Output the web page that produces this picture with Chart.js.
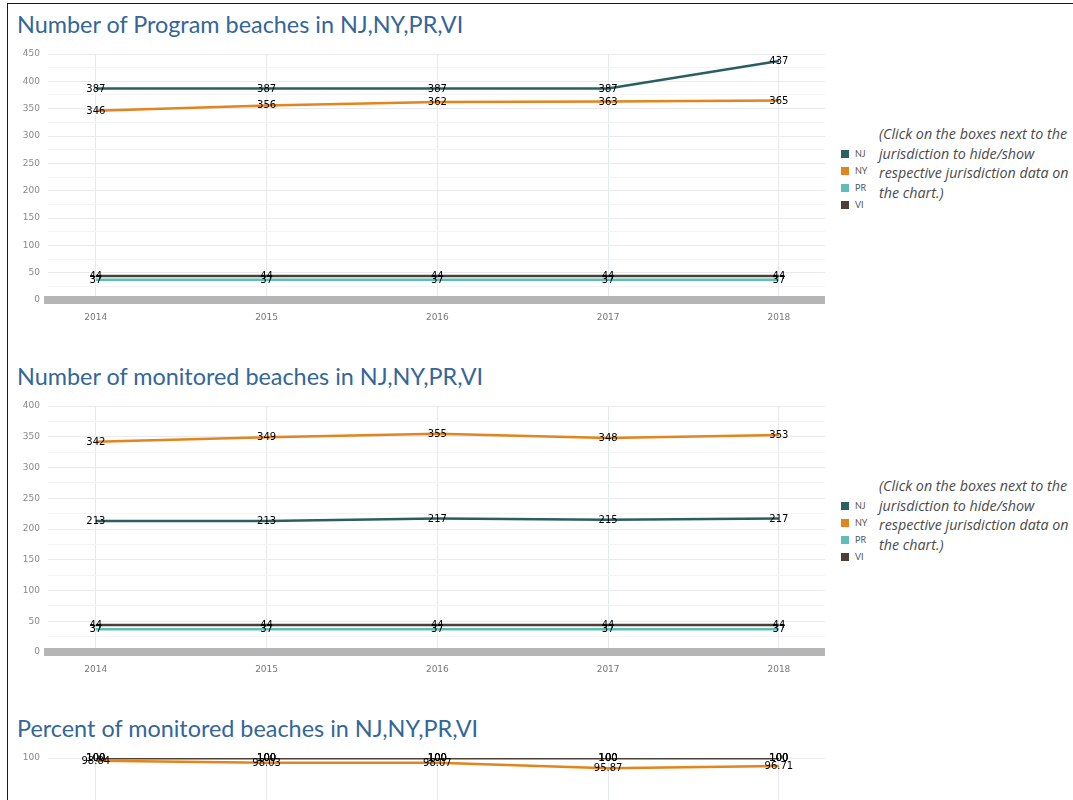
<!DOCTYPE html>
<html>
<head>
<meta charset="utf-8">
<title>Beaches in NJ, NY, PR, VI</title>
<script src="https://cdn.jsdelivr.net/npm/chart.js@4.4.1/dist/chart.umd.min.js"></script>
<style>
  html, body { margin: 0; padding: 0; background: #fff; overflow: hidden; width: 1073px; height: 800px; }
  #frame { position: absolute; left: 7px; top: 3px; width: 1200px; height: 900px;
           border-left: 1px solid #1a1a1a; border-top: 1px solid #1a1a1a; }
  .title { position: absolute; left: 17px; font-family: Lato, "Open Sans", sans-serif; font-size: 23.4px;
           color: #336699; white-space: nowrap; line-height: 28px; }
  .plot { position: absolute; left: 8px; }
  .legend { position: absolute; left: 841px; font-family: Lato, sans-serif; font-size: 9px; color: #555; }
  .legend .item { position: relative; height: 17px; line-height: 8px; cursor: pointer; white-space: nowrap; }
  .legend .box { position: absolute; left: 0; top: 0; width: 8px; height: 8px; }
  .legend .lbl { position: absolute; left: 14px; top: 0; }
  .legend .item.off .lbl { text-decoration: line-through; }
  .note { position: absolute; left: 879px; width: 240px; font-family: "Open Sans", Lato, sans-serif; font-style: italic;
          font-size: 14.3px; line-height: 19.5px; color: #4a4a4a; white-space: nowrap; }
</style>
</head>
<body>
<div id="frame"></div>
<div id="page"></div>
<script>
// Years along the x axis and the four jurisdictions
const years = [2014, 2015, 2016, 2017, 2018];
const jurisdictions = ['NJ', 'NY', 'PR', 'VI'];
const jurisdictionColors = ['#2b5e63', '#e5831c', '#5fbdb5', '#4b3f37'];

// Number of program beaches
const programNJ = [387, 387, 387, 387, 437];
const programNY = [346, 356, 362, 363, 365];
const programPR = [37, 37, 37, 37, 37];
const programVI = [44, 44, 44, 44, 44];

// Number of monitored beaches
const monitoredNJ = [213, 213, 217, 215, 217];
const monitoredNY = [342, 349, 355, 348, 353];
const monitoredPR = [37, 37, 37, 37, 37];
const monitoredVI = [44, 44, 44, 44, 44];

// Percent of monitored beaches
const percentNJ = [100, 100, 100, 100, 100];
const percentNY = [98.84, 98.03, 98.07, 95.87, 96.71];
const percentPR = [100, 100, 100, 100, 100];
const percentVI = [100, 100, 100, 100, 100];

// Chart titles and y-axis tops
const chartTitles = [
  'Number of Program beaches in NJ,NY,PR,VI',
  'Number of monitored beaches in NJ,NY,PR,VI',
  'Percent of monitored beaches in NJ,NY,PR,VI'
];
const yAxisMax = [450, 400, 100];
const yGridStep = 25;
const yLabelStep = 50;

const noteText = '(Click on the boxes next to the<br>jurisdiction to hide/show<br>respective jurisdiction data on<br>the chart.)';

const chartSeries = [
  [programNJ, programNY, programPR, programVI],
  [monitoredNJ, monitoredNY, monitoredPR, monitoredVI],
  [percentNJ, percentNY, percentPR, percentVI]
];

// Writes each point's value centred on the point
const valueLabels = {
  id: 'valueLabels',
  afterDatasetsDraw(chart) {
    const ctx = chart.ctx;
    ctx.save();
    ctx.font = '10px "DejaVu Sans", sans-serif';
    ctx.fillStyle = '#000';
    ctx.textAlign = 'center';
    ctx.textBaseline = 'middle';
    chart.data.datasets.forEach((ds, i) => {
      if (!chart.isDatasetVisible(i)) return;
      const meta = chart.getDatasetMeta(i);
      meta.data.forEach((pt, j) => {
        ctx.fillText(String(ds.data[j].y), pt.x, pt.y + 0.5);
      });
    });
    ctx.restore();
  }
};

const page = document.getElementById('page');
const SECTION = 352;

chartTitles.forEach((title, s) => {
  const oy = s * SECTION;

  const t = document.createElement('div');
  t.className = 'title';
  t.style.top = (10 + oy) + 'px';
  t.textContent = title;
  page.appendChild(t);

  const canvas = document.createElement('canvas');
  canvas.className = 'plot';
  canvas.width = 817;
  canvas.height = 300;
  canvas.style.top = (40 + oy) + 'px';
  page.appendChild(canvas);

  const legend = document.createElement('div');
  legend.className = 'legend';
  legend.style.top = (150 + oy) + 'px';
  page.appendChild(legend);

  const note = document.createElement('div');
  note.className = 'note';
  note.style.top = (124 + oy) + 'px';
  note.innerHTML = noteText;
  page.appendChild(note);

  const datasets = jurisdictions.map((name, k) => ({
    label: name,
    data: chartSeries[s][k].map((v, j) => ({ x: years[j], y: v })),
    borderColor: jurisdictionColors[k],
    backgroundColor: jurisdictionColors[k],
    borderWidth: 2.5,
    pointRadius: 0,
    pointHoverRadius: 0,
    tension: 0,
    order: jurisdictions.length - k
  }));

  const chart = new Chart(canvas, {
    type: 'line',
    data: { datasets },
    options: {
      responsive: false,
      animation: false,
      devicePixelRatio: 1,
      layout: { padding: { top: 14, right: 0, bottom: 0, left: 0 } },
      plugins: { legend: { display: false }, tooltip: { enabled: false } },
      scales: {
        x: {
          type: 'linear',
          min: 2013.72,
          max: 2018.27,
          afterFit(scale) { scale.height = 40; },
          border: { display: true, width: 8, color: '#b5b5b5' },
          grid: { color: '#e4e8ef', lineWidth: 1, drawTicks: false },
          ticks: {
            stepSize: 1,
            includeBounds: false,
            autoSkip: false,
            maxRotation: 0,
            padding: 12,
            color: '#777',
            font: { family: 'DejaVu Sans', size: 9 },
            callback: v => String(v)
          }
        },
        y: {
          min: 0,
          max: yAxisMax[s],
          afterFit(scale) { scale.width = 40; },
          border: { display: false },
          grid: {
            drawTicks: false,
            color: c => (c.tick && c.tick.value % yLabelStep === 0) ? '#e8eaef' : '#f4f4f4'
          },
          ticks: {
            stepSize: yGridStep,
            autoSkip: false,
            padding: 8,
            color: '#888',
            font: { family: 'DejaVu Sans', size: 9 },
            callback: v => (v % yLabelStep === 0 ? String(v) : '')
          }
        }
      }
    },
    plugins: [valueLabels]
  });

  // Clickable legend built from the chart's own datasets
  chart.data.datasets.forEach((ds, i) => {
    const item = document.createElement('div');
    item.className = 'item';
    const box = document.createElement('span');
    box.className = 'box';
    box.style.background = ds.borderColor;
    const lbl = document.createElement('span');
    lbl.className = 'lbl';
    lbl.textContent = ds.label;
    item.appendChild(box);
    item.appendChild(lbl);
    item.addEventListener('click', () => {
      const visible = chart.isDatasetVisible(i);
      chart.setDatasetVisibility(i, !visible);
      item.classList.toggle('off', visible);
      chart.update();
    });
    legend.appendChild(item);
  });
});
</script>
</body>
</html>
